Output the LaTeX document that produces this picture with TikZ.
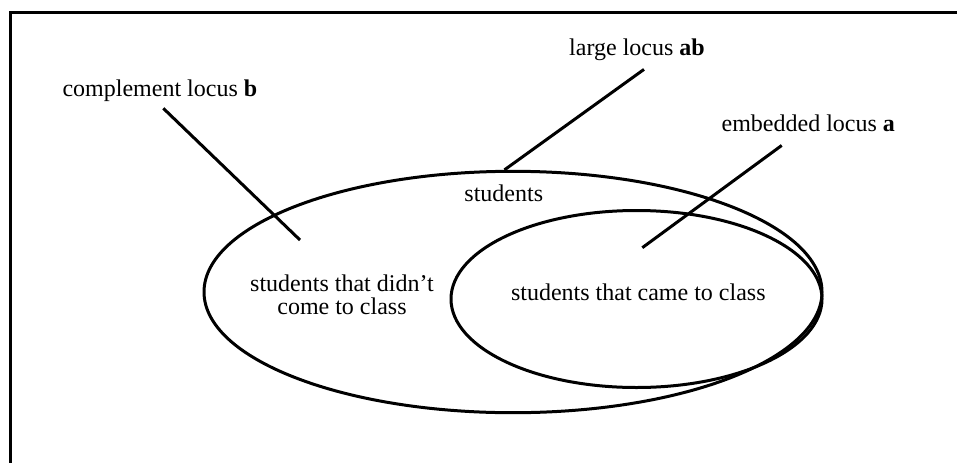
\documentclass[tikz,border=0pt]{standalone}
\usepackage{fontspec}
\setmainfont{Liberation Serif}
\usepackage{tikz}
\usetikzlibrary{shapes.geometric}
\tikzset{
	locus/.style={draw, ellipse, line width=3pt, inner sep=0pt}, % the two sets
	tag/.style={inner sep=0pt, font=\fontsize{24}{23.4}\selectfont},
	leader/.style={line width=3pt},
}

\begin{document}
\begin{tikzpicture}[x=1pt,y=-1pt]
	\useasboundingbox (0,0) rectangle (957,463);
	
	% frame: only top and left edge are shown
	\draw[line width=3.5pt] (957,12.5) -- (10.5,12.5) -- (10.5,463);
	
	% the large set and the set embedded in it
	\node[locus, minimum width=618pt, minimum height=241.4pt] (ab) at (513,292) {};
	\node[locus, minimum width=371pt, minimum height=177pt] (a) at (636.5,299) {};
	
	% texts inside the sets
	\node[tag, anchor=base] (students) at (503.8,201.7) {students};
	\node[tag, align=center] (absent) at (342,294.5) {students that didn't\\come to class};
	\node[tag, anchor=base] (present) at (638.3,300) {students that came to class};
	
	% names of the loci
	\node[tag, anchor=base] (complement) at (159.9,96) {complement locus \textbf{b}};
	\node[tag, anchor=base] (large) at (637,55) {large locus \textbf{ab}};
	\node[tag, anchor=base] (embedded) at (808.3,131.7) {embedded locus \textbf{a}};
	
	% free ends of the leaders
	\coordinate (b end) at (300,240);
	\coordinate (a end) at (642.3,247.7);
	
	% leaders from the names into the sets
	\draw[leader] ([xshift=3.4pt,yshift=-7pt]complement.south) -- (b end);
	\draw[leader] ([xshift=7pt,yshift=-9pt]large.south) -- (ab.94);
	\draw[leader] ([xshift=-26.6pt,yshift=-13.3pt]embedded.south) -- (a end);
	
\end{tikzpicture}
\end{document}
